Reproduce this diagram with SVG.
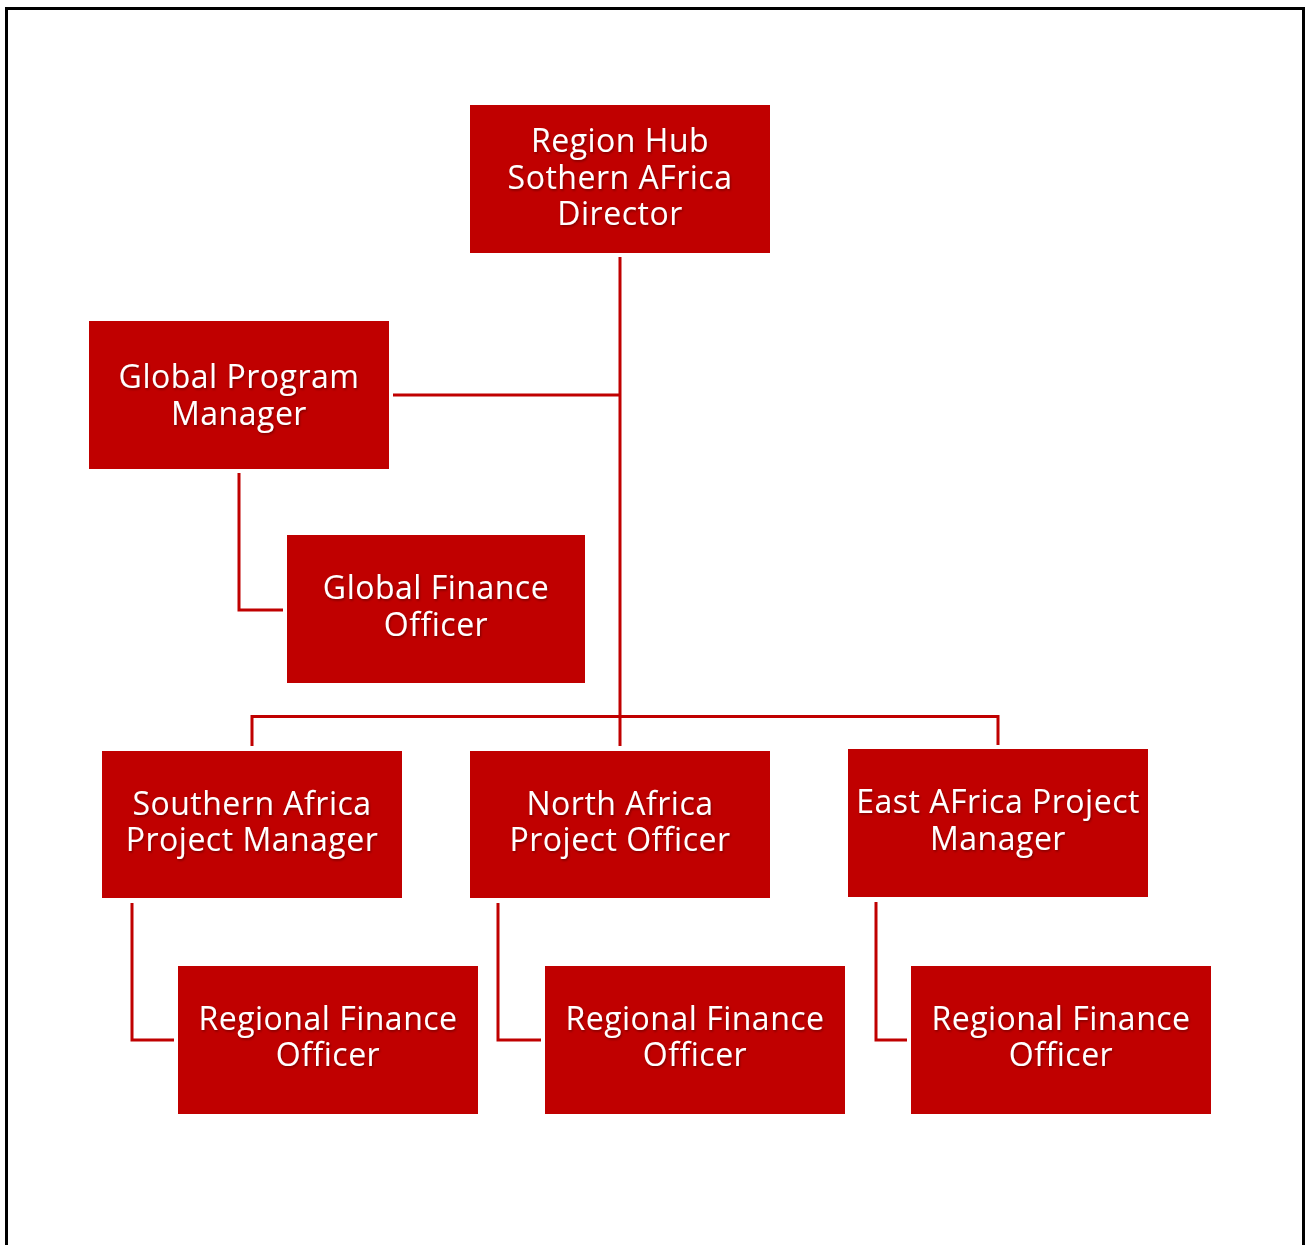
<svg xmlns="http://www.w3.org/2000/svg" width="1306" height="1245" viewBox="0 0 1306 1245">
<defs>
<style>
.box{fill:#c00000;}
.lbl{fill:#ffffff;font-family:"Open Sans",Lato,"Liberation Sans",sans-serif;font-size:32px;letter-spacing:0.5px;text-anchor:middle;}
.con{fill:none;stroke:#c00000;stroke-width:3;}
</style>
<filter id="sh" x="-10%" y="-20%" width="120%" height="140%">
<feDropShadow dx="1" dy="1.5" stdDeviation="1" flood-color="#000000" flood-opacity="0.35"/>
</filter>
</defs>
<rect x="0" y="0" width="1306" height="1245" fill="#ffffff"/>
<path d="M6.5 1245 V8.5 H1303.5 V1245" fill="none" stroke="#000000" stroke-width="3"/>
<g id="connectors">
<path class="con" d="M620 257 V746"/>
<path class="con" d="M393 395 H620"/>
<path class="con" d="M239 473 V610 H283"/>
<path class="con" d="M252 746 V716.5 H998 V745"/>
<path class="con" d="M132 903 V1040 H174"/>
<path class="con" d="M498 903 V1040 H541"/>
<path class="con" d="M876 902 V1040 H907"/>
</g>
<g id="director">
<rect class="box" x="470" y="105" width="300" height="148"/>
<text class="lbl" filter="url(#sh)"><tspan x="620" y="152">Region Hub</tspan><tspan x="620" y="189">Sothern AFrica</tspan><tspan x="620" y="225">Director</tspan></text>
</g>
<g id="global-program-manager">
<rect class="box" x="89" y="321" width="300" height="148"/>
<text class="lbl" filter="url(#sh)"><tspan x="239" y="388">Global Program</tspan><tspan x="239" y="425">Manager</tspan></text>
</g>
<g id="global-finance-officer">
<rect class="box" x="287" y="535" width="298" height="148"/>
<text class="lbl" filter="url(#sh)"><tspan x="436" y="599">Global Finance</tspan><tspan x="436" y="636">Officer</tspan></text>
</g>
<g id="southern-africa-pm">
<rect class="box" x="102" y="751" width="300" height="147"/>
<text class="lbl" filter="url(#sh)"><tspan x="252" y="815">Southern Africa</tspan><tspan x="252" y="851">Project Manager</tspan></text>
</g>
<g id="north-africa-po">
<rect class="box" x="470" y="751" width="300" height="147"/>
<text class="lbl" filter="url(#sh)"><tspan x="620" y="815">North Africa</tspan><tspan x="620" y="851">Project Officer</tspan></text>
</g>
<g id="east-africa-pm">
<rect class="box" x="848" y="749" width="300" height="148"/>
<text class="lbl" filter="url(#sh)"><tspan x="998" y="813">East AFrica Project</tspan><tspan x="998" y="850">Manager</tspan></text>
</g>
<g id="rfo-south">
<rect class="box" x="178" y="966" width="300" height="148"/>
<text class="lbl" filter="url(#sh)"><tspan x="328" y="1030">Regional Finance</tspan><tspan x="328" y="1066">Officer</tspan></text>
</g>
<g id="rfo-north">
<rect class="box" x="545" y="966" width="300" height="148"/>
<text class="lbl" filter="url(#sh)"><tspan x="695" y="1030">Regional Finance</tspan><tspan x="695" y="1066">Officer</tspan></text>
</g>
<g id="rfo-east">
<rect class="box" x="911" y="966" width="300" height="148"/>
<text class="lbl" filter="url(#sh)"><tspan x="1061" y="1030">Regional Finance</tspan><tspan x="1061" y="1066">Officer</tspan></text>
</g>
</svg>
